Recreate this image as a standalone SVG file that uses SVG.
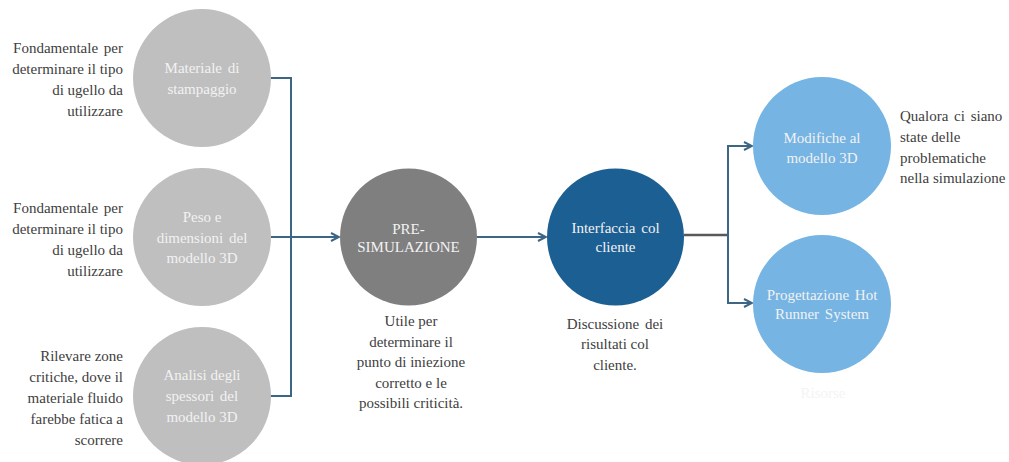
<svg xmlns="http://www.w3.org/2000/svg" width="1009" height="462" viewBox="0 0 1009 462" font-family="'Liberation Serif', 'Times New Roman', Times, serif">
  <style>
    text { font-family: 'Liberation Serif', 'Times New Roman', Times, serif; font-size: 15px; }
    .t { fill: #404040; }
    .lbl { fill: #f2f2f2; text-anchor: middle; }
    .end { text-anchor: end; }
    .mid { text-anchor: middle; }
    .conn { fill: none; stroke: #3d6584; stroke-width: 2; }
    .gray { fill: #bfbfbf; }
  </style>
  <defs>
    <marker id="arr" viewBox="0 0 10 10" refX="9" refY="5" markerWidth="10" markerHeight="10" markerUnits="userSpaceOnUse" orient="auto">
      <path d="M1,1 L9,5 L1,9" fill="none" stroke="#3d6584" stroke-width="2"/>
    </marker>
  </defs>
  <rect width="1009" height="462" fill="#ffffff"/>

  <g id="connectors">
    <path class="conn" d="M270,78 H291 V396 H270"/>
    <path class="conn" d="M271,237 H339" marker-end="url(#arr)"/>
    <path class="conn" d="M477,237 H546" marker-end="url(#arr)"/>
    <path d="M684,235 H728" fill="none" stroke="#595959" stroke-width="2.5"/>
    <path class="conn" d="M728,235 V146 H752" marker-end="url(#arr)"/>
    <path class="conn" d="M728,235 V303 H752" marker-end="url(#arr)"/>
  </g>

  <g id="node-materiale">
    <circle class="gray" cx="202" cy="78" r="69"/>
    <text class="lbl" x="202" y="73" word-spacing="2">Materiale di</text>
    <text class="lbl" x="202" y="94">stampaggio</text>
    <text class="t end" x="123" y="53" word-spacing="2">Fondamentale per</text>
    <text class="t end" x="123" y="74">determinare il tipo</text>
    <text class="t end" x="123" y="95">di ugello da</text>
    <text class="t end" x="123" y="116">utilizzare</text>
  </g>

  <g id="node-peso">
    <circle class="gray" cx="202" cy="237" r="69"/>
    <text class="lbl" x="202" y="222">Peso e</text>
    <text class="lbl" x="202" y="243" word-spacing="2">dimensioni del</text>
    <text class="lbl" x="202" y="263">modello 3D</text>
    <text class="t end" x="123" y="213" word-spacing="2">Fondamentale per</text>
    <text class="t end" x="123" y="234">determinare il tipo</text>
    <text class="t end" x="123" y="255">di ugello da</text>
    <text class="t end" x="123" y="276">utilizzare</text>
  </g>

  <g id="node-analisi">
    <circle class="gray" cx="202" cy="396" r="69"/>
    <text class="lbl" x="202" y="380">Analisi degli</text>
    <text class="lbl" x="202" y="401" word-spacing="2">spessori del</text>
    <text class="lbl" x="202" y="422">modello 3D</text>
    <text class="t end" x="123" y="361">Rilevare zone</text>
    <text class="t end" x="123" y="382">critiche, dove il</text>
    <text class="t end" x="123" y="403">materiale fluido</text>
    <text class="t end" x="123" y="424">farebbe fatica a</text>
    <text class="t end" x="123" y="445">scorrere</text>
  </g>

  <g id="node-presimulazione">
    <circle cx="408.5" cy="237" r="68.5" fill="#7f7f7f"/>
    <text class="lbl" x="408.5" y="234">PRE-</text>
    <text class="lbl" x="408.5" y="252">SIMULAZIONE</text>
    <text class="t mid" x="411" y="326">Utile per</text>
    <text class="t mid" x="411" y="347">determinare il</text>
    <text class="t mid" x="411" y="367">punto di iniezione</text>
    <text class="t mid" x="411" y="388">corretto e le</text>
    <text class="t mid" x="411" y="408">possibili criticità.</text>
  </g>

  <g id="node-interfaccia">
    <circle cx="615.5" cy="237" r="68.5" fill="#1c5f92"/>
    <text class="lbl" x="615.5" y="233" word-spacing="2">Interfaccia col</text>
    <text class="lbl" x="615.5" y="252">cliente</text>
    <text class="t mid" x="615" y="329" word-spacing="2">Discussione dei</text>
    <text class="t mid" x="615" y="349">risultati col</text>
    <text class="t mid" x="615" y="370">cliente.</text>
  </g>

  <g id="node-modifiche">
    <circle cx="822" cy="146" r="69" fill="#75b4e3"/>
    <text class="lbl" x="822" y="143">Modifiche al</text>
    <text class="lbl" x="822" y="163">modello 3D</text>
    <text class="t" x="900" y="121" word-spacing="2">Qualora ci siano</text>
    <text class="t" x="900" y="142">state delle</text>
    <text class="t" x="900" y="163">problematiche</text>
    <text class="t" x="900" y="183">nella simulazione</text>
  </g>

  <g id="node-hotrunner">
    <circle cx="822" cy="304" r="69" fill="#75b4e3"/>
    <text class="lbl" x="822" y="300" word-spacing="2">Progettazione Hot</text>
    <text class="lbl" x="822" y="319" word-spacing="2">Runner System</text>
    <text class="t mid" x="823" y="398" style="fill:#f4f4f4">Risorse</text>
  </g>
</svg>
